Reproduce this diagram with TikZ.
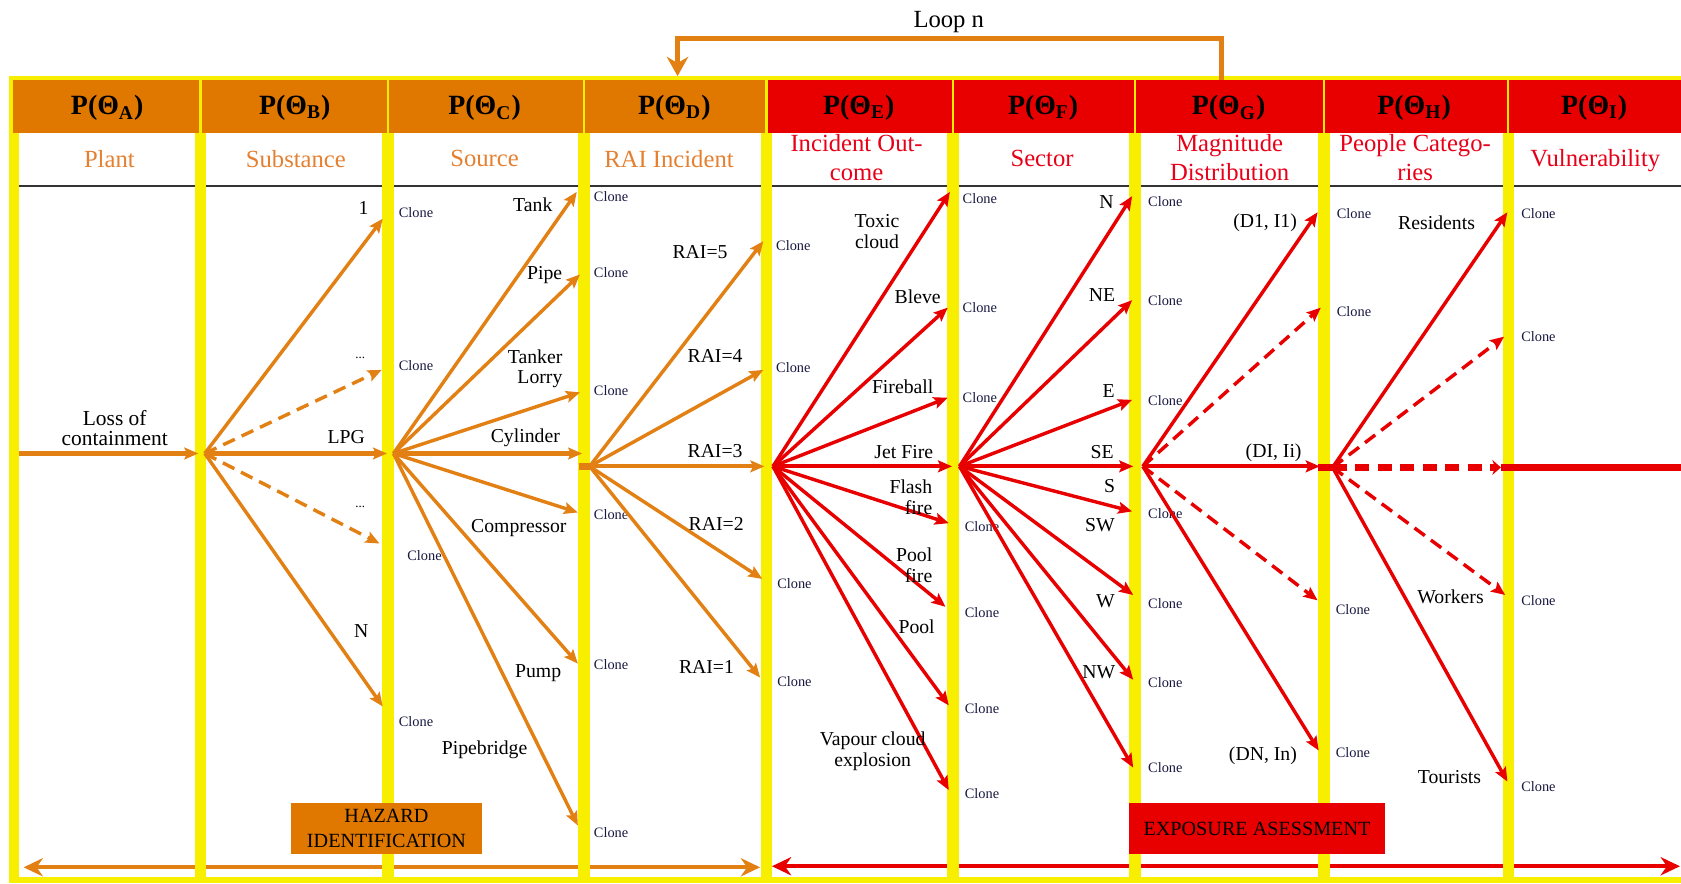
\documentclass[tikz,border=0pt]{standalone}
\usepackage{fontspec}
\setmainfont{Liberation Serif}
\usetikzlibrary{arrows.meta}
\definecolor{hdrorange}{RGB}{224,120,0}
\definecolor{hdrred}{RGB}{232,0,0}
\definecolor{fyellow}{RGB}{248,238,0}
\definecolor{aorange}{RGB}{226,128,20}
\definecolor{ared}{RGB}{232,0,0}
\definecolor{txorange}{RGB}{228,128,48}
\definecolor{txred}{RGB}{232,0,24}
\definecolor{clonecol}{RGB}{24,24,64}
\begin{document}
\begin{tikzpicture}[x=0.5pt,y=-0.5pt,
  oarr/.style={draw=aorange,line width=1.6pt,-{Stealth[length=6.5pt,width=5.5pt,inset=1.2pt]}},
  rarr/.style={draw=ared,line width=1.6pt,-{Stealth[length=6.5pt,width=5.5pt,inset=1.2pt]}},
  dsh/.style={dash pattern=on 6pt off 3.5pt},
  lab/.style={font=\fontsize{9.2}{9.6}\selectfont,inner sep=0pt,align=center},
  clonelab/.style={font=\fontsize{6.7}{7}\selectfont,text=clonecol,inner sep=0pt},
  hdrlab/.style={font=\fontsize{13}{14}\selectfont\bfseries,inner sep=0pt},
  subo/.style={font=\fontsize{11.5}{13.5}\selectfont,text=txorange,inner sep=0pt,align=center},
  subr/.style={font=\fontsize{11.5}{13.5}\selectfont,text=txred,inner sep=0pt,align=center},
  boxlab/.style={inner sep=0pt,font=\fontsize{9.4}{11.5}\selectfont,align=center},
]
\useasboundingbox (0,0) rectangle (1568,824);
\begin{scope}
\clip (0,0) rectangle (1568,824);
% header bands
\fill[hdrorange] (10,75) rectangle (715,124);
\fill[hdrred] (715,75) rectangle (1570,124);
% black rule under sub-headers
\draw[black!80,line width=1.1pt] (14,173.5) -- (1570,173.5);
% bottom arrows
\coordinate (botA) at (22,809);
\coordinate (botB) at (709,809);
\coordinate (botC) at (720,808);
\coordinate (botD) at (1567,808);
\draw[aorange,line width=2pt,{Stealth[length=9pt,width=8.5pt]}-{Stealth[length=9pt,width=8.5pt]}] (botA) -- (botB);
\draw[ared,line width=2pt,{Stealth[length=9pt,width=8.5pt]}-{Stealth[length=9pt,width=8.5pt]}] (botC) -- (botD);
% yellow frame
\fill[fyellow] (8,71) rectangle (1570,75);
\fill[fyellow] (8,75) rectangle (12,124);
\fill[fyellow] (8,124) rectangle (18,824);
\fill[fyellow] (8,818) rectangle (1570,824);
\foreach \x in {187,362,545,715,889,1059,1235,1407} {
  \fill[fyellow] (\x-1,75) rectangle (\x+1,124);
  \fill[fyellow] (\x-5.5,124) rectangle (\x+5.5,818);
}
% header texts
\node[hdrlab] (hA) at (100,101) {P(Θ\textsubscript{A})};
\node[hdrlab] (hB) at (275,101) {P(Θ\textsubscript{B})};
\node[hdrlab] (hC) at (452,101) {P(Θ\textsubscript{C})};
\node[hdrlab] (hD) at (629,101) {P(Θ\textsubscript{D})};
\node[hdrlab] (hE) at (801,101) {P(Θ\textsubscript{E})};
\node[hdrlab] (hF) at (973,101) {P(Θ\textsubscript{F})};
\node[hdrlab] (hG) at (1146,101) {P(Θ\textsubscript{G})};
\node[hdrlab] (hH) at (1319,101) {P(Θ\textsubscript{H})};
\node[hdrlab] (hI) at (1487,101) {P(Θ\textsubscript{I})};
% sub-headers
\node[subo] (sA) at (102,148) {Plant};
\node[subo] (sB) at (276,148) {Substance};
\node[subo] (sC) at (452,148) {Source};
\node[subo] (sD) at (624,148) {RAI Incident};
\node[subr] (sE) at (799,147) {Incident Out-\\come};
\node[subr] (sF) at (972,148) {Sector};
\node[subr] (sG) at (1147,147) {Magnitude\\Distribution};
\node[subr] (sH) at (1320,147) {People Catego-\\ries};
\node[subr] (sI) at (1488,150) {Vulnerability};
% loop
\coordinate (lp1) at (1139,75);
\coordinate (lp2) at (1139,36);
\coordinate (lp3) at (632,36);
\coordinate (lp4) at (632,71);
\draw[aorange,line width=2.3pt,-{Stealth[length=9pt,width=10pt]}] (lp1) -- (lp2) -- (lp3) -- (lp4);
\node[font=\fontsize{11.5}{12}\selectfont,inner sep=0pt] (loopn) at (885,21) {Loop n};
% ---- column A
\coordinate (a0) at (18,423);
\coordinate (a1) at (185,423);
\draw[oarr,line width=2.2pt] (a0) -- (a1);
\node[lab,font=\fontsize{10}{9.5}\selectfont] (lA) at (107,399) {Loss of\\containment};
% ---- column B
\coordinate (b0) at (191,423);
\coordinate (b1) at (357,204);
\coordinate (b2) at (356,345);
\coordinate (b3) at (361,423);
\coordinate (b4) at (354,507);
\coordinate (b5) at (357,659);
\draw[oarr] (b0) -- (b1);
\draw[oarr,dsh] (b0) -- (b2);
\draw[oarr,line width=2pt] (b0) -- (b3);
\draw[oarr,dsh] (b0) -- (b4);
\draw[oarr] (b0) -- (b5);
\node[lab] (lb1) at (339,194) {1};
\node[lab,font=\fontsize{6}{6}\selectfont] (lb2) at (336,334) {...};
\node[lab] (lb3) at (323,408) {LPG};
\node[lab,font=\fontsize{6}{6}\selectfont] (lb4) at (336,473) {...};
\node[lab] (lb5) at (337,589) {N};
\node[clonelab] (kc1) at (388,198) {Clone};
\node[clonelab] (kc2) at (388,341) {Clone};
\node[clonelab] (kc3) at (396,518) {Clone};
\node[clonelab] (kc4) at (388,673) {Clone};
% ---- column C
\coordinate (c0) at (367,423);
\coordinate (c1) at (538,179);
\coordinate (c2) at (541,256);
\coordinate (c3) at (541,366);
\coordinate (c4) at (543,423);
\coordinate (c5) at (539,478);
\coordinate (c6) at (539,619);
\coordinate (c7) at (539,770);
\foreach \t in {c1,c2,c3,c5,c6,c7} \draw[oarr] (c0) -- (\t);
\draw[oarr,line width=2pt] (c0) -- (c4);
\node[lab] (lc1) at (497,191) {Tank};
\node[lab] (lc2) at (508,257) {Pipe};
\node[lab,align=right,anchor=east] (lc3) at (525,344) {Tanker\\Lorry};
\node[lab] (lc4) at (490,408) {Cylinder};
\node[lab] (lc5) at (484,493) {Compressor};
\node[lab] (lc6) at (502,628) {Pump};
\node[lab] (lc7) at (452,699) {Pipebridge};
\node[clonelab] (kd1) at (570,183) {Clone};
\node[clonelab] (kd2) at (570,254) {Clone};
\node[clonelab] (kd3) at (570,364) {Clone};
\node[clonelab] (kd4) at (570,480) {Clone};
\node[clonelab] (kd5) at (570,620) {Clone};
\node[clonelab] (kd6) at (570,777) {Clone};
% ---- column D
\coordinate (d0) at (550,435);
\coordinate (ds) at (540,435);
\coordinate (d1) at (712,225);
\coordinate (d2) at (712,345);
\coordinate (d3) at (713,435);
\coordinate (d4) at (711,540);
\coordinate (d5) at (709,632);
\draw[aorange,line width=3pt] (ds) -- (d0);
\foreach \t in {d1,d2,d4,d5} \draw[oarr] (d0) -- (\t);
\draw[oarr,line width=2pt] (d0) -- (d3);
\node[lab] (ld1) at (653,235) {RAI=5};
\node[lab] (ld2) at (667,332) {RAI=4};
\node[lab] (ld3) at (667,421) {RAI=3};
\node[lab] (ld4) at (668,489) {RAI=2};
\node[lab] (ld5) at (659,622) {RAI=1};
\node[clonelab] (ke1) at (740,229) {Clone};
\node[clonelab] (ke2) at (740,343) {Clone};
\node[clonelab] (ke3) at (741,544) {Clone};
\node[clonelab] (ke4) at (741,636) {Clone};
% ---- column E
\coordinate (e0) at (721,435);
\coordinate (e1) at (886,179);
\coordinate (e2) at (884,287);
\coordinate (e3) at (884,371);
\coordinate (e4) at (888,435);
\coordinate (e5) at (885,488);
\coordinate (e6) at (882,566);
\coordinate (e7) at (885,658);
\coordinate (e8) at (885,737);
\foreach \t in {e1,e2,e3,e5,e6,e7,e8} \draw[rarr] (e0) -- (\t);
\draw[rarr,line width=2pt] (e0) -- (e4);
\node[lab] (le1) at (818,216) {Toxic\\cloud};
\node[lab] (le2) at (856,277) {Bleve};
\node[lab] (le3) at (842,361) {Fireball};
\node[lab] (le4) at (843,422) {Jet Fire};
\node[lab,align=right,anchor=east] (le5) at (870,464) {Flash\\fire};
\node[lab,align=right,anchor=east] (le6) at (870,527) {Pool\\fire};
\node[lab] (le7) at (855,585) {Pool};
\node[lab] (le8) at (814,701) {Vapour cloud\\explosion};
\node[clonelab] (kf1) at (914,185) {Clone};
\node[clonelab] (kf2) at (914,287) {Clone};
\node[clonelab] (kf3) at (914,371) {Clone};
\node[clonelab] (kf4) at (916,491) {Clone};
\node[clonelab] (kf5) at (916,571) {Clone};
\node[clonelab] (kf6) at (916,661) {Clone};
\node[clonelab] (kf7) at (916,740) {Clone};
% ---- column F
\coordinate (f0) at (895,435);
\coordinate (f1) at (1056,183);
\coordinate (f2) at (1056,280);
\coordinate (f3) at (1056,373);
\coordinate (f4) at (1057,435);
\coordinate (f5) at (1056,477);
\coordinate (f6) at (1057,555);
\coordinate (f7) at (1057,634);
\coordinate (f8) at (1057,716);
\foreach \t in {f1,f2,f3,f5,f6,f7,f8} \draw[rarr] (f0) -- (\t);
\draw[rarr,line width=2pt] (f0) -- (f4);
\node[lab] (lf1) at (1032,188) {N};
\node[lab] (lf2) at (1028,275) {NE};
\node[lab] (lf3) at (1034,365) {E};
\node[lab] (lf4) at (1028,422) {SE};
\node[lab] (lf5) at (1035,453) {S};
\node[lab] (lf6) at (1026,490) {SW};
\node[lab] (lf7) at (1031,561) {W};
\node[lab] (lf8) at (1025,627) {NW};
\node[clonelab] (kg1) at (1087,188) {Clone};
\node[clonelab] (kg2) at (1087,280) {Clone};
\node[clonelab] (kg3) at (1087,374) {Clone};
\node[clonelab] (kg4) at (1087,479) {Clone};
\node[clonelab] (kg5) at (1087,563) {Clone};
\node[clonelab] (kg6) at (1087,637) {Clone};
\node[clonelab] (kg7) at (1087,716) {Clone};
% ---- column G
\coordinate (g0) at (1066,435);
\coordinate (g1) at (1229,198);
\coordinate (g2) at (1232,287);
\coordinate (g3) at (1231,435);
\coordinate (g4) at (1229,560);
\coordinate (g5) at (1230,700);
\draw[rarr] (g0) -- (g1);
\draw[rarr,dsh] (g0) -- (g2);
\draw[rarr,line width=2pt] (g0) -- (g3);
\draw[rarr,dsh] (g0) -- (g4);
\draw[rarr] (g0) -- (g5);
\node[lab] (lg1) at (1180,208) {(D1, I1)};
\node[lab] (lg3) at (1188,422) {(DI, Ii)};
\node[lab] (lg5) at (1178,705) {(DN, In)};
\node[clonelab] (kh1) at (1263,199) {Clone};
\node[clonelab] (kh2) at (1263,291) {Clone};
\node[clonelab] (kh3) at (1262,569) {Clone};
\node[clonelab] (kh4) at (1262,702) {Clone};
% ---- column H
\coordinate (hs) at (1229,436);
\coordinate (h0) at (1243,436);
\coordinate (h1) at (1406,198);
\coordinate (h2) at (1403,314);
\coordinate (h3) at (1400,436);
\coordinate (h4) at (1404,555);
\coordinate (h5) at (1406,729);
\draw[ared,line width=3pt] (hs) -- (h0);
\draw[rarr] (h0) -- (h1);
\draw[rarr,dsh] (h0) -- (h2);
\draw[ared,line width=3pt,dash pattern=on 6.5pt off 4pt,-{Stealth[length=4pt,width=7pt]}] (h0) -- (h3);
\draw[rarr,dsh] (h0) -- (h4);
\draw[rarr] (h0) -- (h5);
\node[lab] (lh1) at (1340,208) {Residents};
\node[lab] (lh4) at (1353,557) {Workers};
\node[lab] (lh5) at (1352,725) {Tourists};
\node[clonelab] (ki1) at (1435,199) {Clone};
\node[clonelab] (ki2) at (1435,314) {Clone};
\node[clonelab] (ki3) at (1435,560) {Clone};
\node[clonelab] (ki4) at (1435,734) {Clone};
% ---- column I
\coordinate (i0) at (1400,436);
\coordinate (i1) at (1575,436);
\draw[ared,line width=3pt] (i0) -- (i1);
% ---- boxes
\node[boxlab,fill=hdrorange,minimum width=89.5pt,minimum height=24pt] (haz) at (360.5,773) {HAZARD\\IDENTIFICATION};
\node[boxlab,fill=hdrred,minimum width=119.5pt,minimum height=24pt] (exp) at (1172.5,773) {EXPOSURE ASESSMENT};
\end{scope}
\end{tikzpicture}
\end{document}
